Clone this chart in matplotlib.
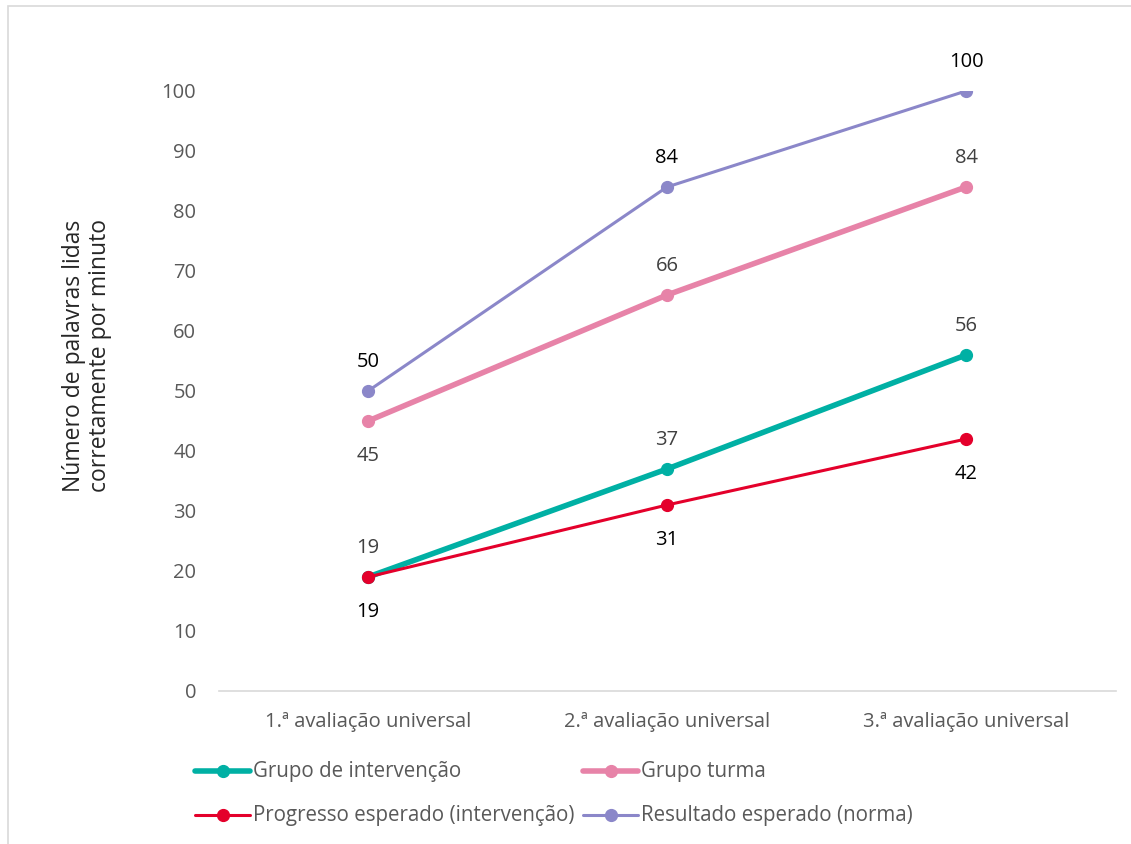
import matplotlib
matplotlib.use("Agg")
import matplotlib.pyplot as plt
from matplotlib.lines import Line2D
from matplotlib.patches import Rectangle

plt.rcParams['font.family'] = ['Open Sans', 'DejaVu Sans']

categories = ["1.ª avaliação universal", "2.ª avaliação universal", "3.ª avaliação universal"]
grupo_intervencao = [19, 37, 56]
grupo_turma = [45, 66, 84]
progresso_esperado = [19, 31, 42]
resultado_esperado = [50, 84, 100]
y_ticks = [0, 10, 20, 30, 40, 50, 60, 70, 80, 90, 100]

series = [
    # name, values, color, linewidth, label color, label offsets (pts, per point)
    ("Grupo de intervenção", grupo_intervencao, "#00B0A4", 4.0, "#404040", [21, 21, 21]),
    ("Grupo turma", grupo_turma, "#E783A8", 4.0, "#404040", [-25, 21, 21]),
    ("Progresso esperado (intervenção)", progresso_esperado, "#E4002B", 2.2, "#000000", [-25, -25, -25]),
    ("Resultado esperado (norma)", resultado_esperado, "#8B87C9", 2.2, "#000000", [21, 21, 21]),
]

fig = plt.figure(figsize=(11.31, 8.44), dpi=100)
ax = fig.add_axes([218.5 / 1131, 1 - 691 / 844, 897 / 1131, 600 / 844])

x = [0.5, 1.5, 2.5]
draw_order = [1, 3, 0, 2]
for i in draw_order:
    name, vals, color, lw, lc, offs = series[i]
    ax.plot(x, vals, color=color, lw=lw, marker="o", markersize=8.5,
            solid_capstyle="round", zorder=3 + i, label=name)
    for xi, v, off in zip(x, vals, offs):
        ax.annotate(str(v), (xi, v), xytext=(0, off), textcoords="offset points",
                    ha="center", va="center", fontsize=14.5, color=lc)

ax.set_xlim(0, 3)
ax.set_ylim(0, 100)
ax.set_yticks(y_ticks)
ax.set_yticklabels([str(t) for t in y_ticks], fontsize=14.5, color="#595959")
ax.set_xticks(x)
ax.set_xticklabels(categories, fontsize=14.5, color="#595959")
ax.tick_params(axis="both", length=0)
ax.tick_params(axis="x", pad=15)
ax.tick_params(axis="y", pad=16)
for s in ["top", "right", "left"]:
    ax.spines[s].set_visible(False)
ax.spines["bottom"].set_color("#D9D9D9")
ax.spines["bottom"].set_linewidth(1.2)

fig.text(87 / 1131, 1 - 356 / 844, "Número de palavras lidas\ncorretamente por minuto",
         rotation=90, ha="center", va="center", fontsize=16.5, color="#262626",
         linespacing=1.15, multialignment="center")

# Legend in two rows
leg_pos = [(195, 771, 0), (583, 771, 1), (195, 815, 2), (583, 815, 3)]
for px, py, i in leg_pos:
    name, vals, color, lw, lc, offs = series[i]
    yf = 1 - py / 844
    fig.add_artist(Line2D([px / 1131, (px + 55) / 1131], [yf, yf], color=color, lw=lw,
                          solid_capstyle="round"))
    fig.add_artist(Line2D([(px + 27.5) / 1131], [yf], color=color, marker="o",
                          markersize=8.5, lw=0))
    fig.text((px + 58) / 1131, yf, name, fontsize=14.8, color="#595959", va="center", ha="left")

# Chart area border
fig.add_artist(Rectangle((8 / 1131, -0.01), 1.2, 1 - 6 / 844 + 0.01, transform=fig.transFigure,
                         fill=False, edgecolor="#D9D9D9", lw=1.2))

fig.savefig("out.png", dpi=100)
